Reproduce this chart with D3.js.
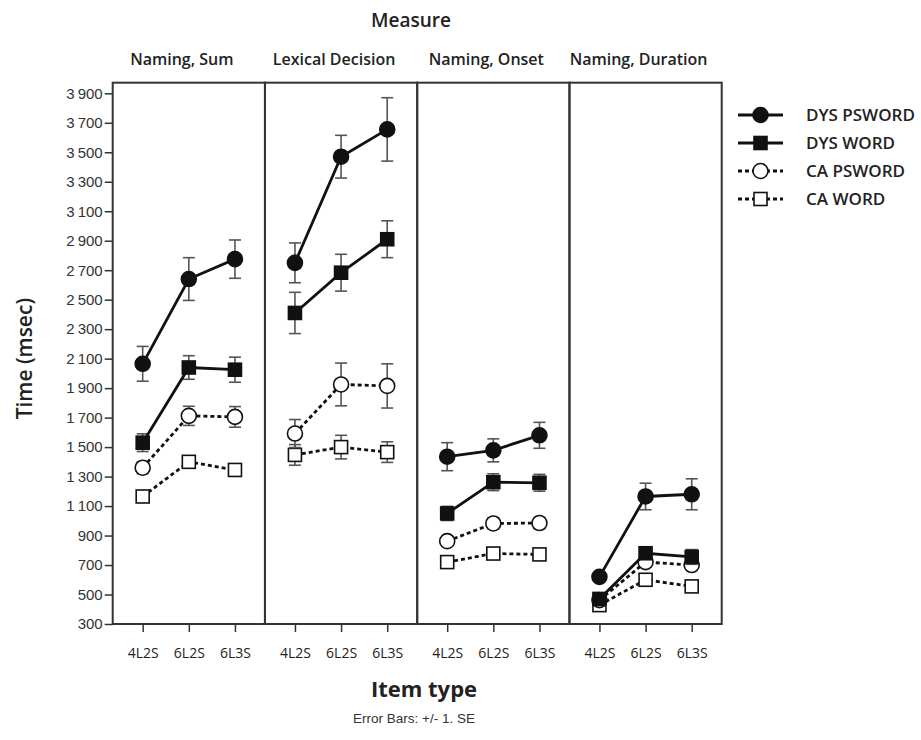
<!DOCTYPE html>
<html>
<head>
<meta charset="utf-8">
<script src="https://cdn.jsdelivr.net/npm/d3@7"></script>
<style>
  body { margin: 0; background: #fff; }
  text { font-family: "Open Sans", sans-serif; }
</style>
</head>
<body>
<script>
// measures (panels) and item types (x categories)
const measures = ["Naming, Sum", "Lexical Decision", "Naming, Onset", "Naming, Duration"];
const itemTypes = ["4L2S", "6L2S", "6L3S"];
const groups = ["DYS PSWORD", "DYS WORD", "CA PSWORD", "CA WORD"];

// means (msec), 3 item types per measure, in measure order
const dysPsword   = [2065, 2640, 2775,  2750, 3470, 3655,  1435, 1478, 1580,  620, 1165, 1180];
const dysPswordSE = [ 118,  145,  130,   135,  145,  215,    95,   78,   88,   28,   90,  105];
const dysWord     = [1530, 2040, 2025,  2410, 2683, 2910,  1050, 1262, 1258,  470,  780,  755];
const dysWordSE   = [  60,   80,   85,   140,  125,  125,    48,   57,   57,   20,   38,   50];
const caPsword    = [1360, 1712, 1705,  1592, 1925, 1915,   862,  982,  985,  462,  720,  700];
const caPswordSE  = [  40,   65,   70,    95,  145,  150,    15,   38,   38,   15,   25,   25];
const caWord      = [1165, 1400, 1345,  1447, 1500, 1466,   720,  778,  772,  428,  600,  555];
const caWordSE    = [  20,   30,   20,    70,   80,   70,    10,   15,   15,   10,   15,   15];

const yTicks = d3.range(300, 4000, 200);

const series = [
  {name: groups[0], mean: dysPsword, se: dysPswordSE, shape: "circle", fill: "#111", dash: null},
  {name: groups[1], mean: dysWord,   se: dysWordSE,   shape: "square", fill: "#111", dash: null},
  {name: groups[2], mean: caPsword,  se: caPswordSE,  shape: "circle", fill: "#fff", dash: "4,3"},
  {name: groups[3], mean: caWord,    se: caWordSE,    shape: "square", fill: "#fff", dash: "4,3"}
];

const width = 921, height = 740;
const left = 112.7, right = 721.7, bottom = 624;

const svg = d3.select("body").append("svg")
  .attr("width", width).attr("height", height);

const y = d3.scaleLinear().domain([300, 3900]).range([bottom, 93.3]);
const yTop = y(3972);

const panel = d3.scaleBand().domain(measures).range([left, right]);
const x = d3.scalePoint().domain(itemTypes).range([0, panel.bandwidth()]).padding(0.65);

// titles
svg.append("text").attr("x", 411).attr("y", 27).attr("text-anchor", "middle")
  .style("font-size", "19px").style("font-weight", 600).attr("fill", "#222").text("Measure");

svg.append("text").attr("transform", "translate(32," + (y(2100)) + ") rotate(-90)")
  .attr("text-anchor", "middle").style("font-size", "21px").style("font-weight", 600)
  .attr("fill", "#222").text("Time (msec)");

svg.append("text").attr("x", 424).attr("y", 697).attr("text-anchor", "middle")
  .style("font-size", "22px").style("font-weight", 700).attr("fill", "#222").text("Item type");

svg.append("text").attr("x", 414).attr("y", 723).attr("text-anchor", "middle")
  .style("font-family", "'Liberation Sans', Arial, sans-serif")
  .style("font-size", "13.5px").attr("fill", "#333").text("Error Bars: +/- 1. SE");

// y axis
const fmt = v => d3.format(",")(v).replace(",", "\u2009");
const yAxis = svg.append("g").attr("transform", "translate(" + left + ",0)")
  .call(d3.axisLeft(y).tickValues(yTicks).tickSize(8).tickPadding(2).tickFormat(fmt));
yAxis.select(".domain").remove();
yAxis.selectAll("line").attr("stroke", "#333").attr("stroke-width", 1.5);
yAxis.selectAll("text").attr("fill", "#333")
  .style("font-family", "'Liberation Sans', Arial, sans-serif").style("font-size", "15px");

const line = d3.line().x(d => x(d.type)).y(d => y(d.v));

measures.forEach((m, mi) => {
  const g = svg.append("g").attr("transform", "translate(" + panel(m) + ",0)");

  g.append("text").attr("x", panel.bandwidth() / 2 - 7).attr("y", 65)
    .attr("text-anchor", "middle").style("font-size", "16px").style("font-weight", 600)
    .attr("fill", "#222").text(m);

  g.append("rect").attr("x", 0).attr("y", yTop)
    .attr("width", panel.bandwidth()).attr("height", bottom - yTop)
    .attr("fill", "none").attr("stroke", "#333").attr("stroke-width", 2);

  const xAxis = g.append("g").attr("transform", "translate(0," + bottom + ")")
    .call(d3.axisBottom(x).tickSize(8).tickPadding(16));
  xAxis.select(".domain").remove();
  xAxis.selectAll("line").attr("stroke", "#333").attr("stroke-width", 1.5);
  xAxis.selectAll("text").attr("fill", "#222").style("font-size", "14px");

  // CA groups first so DYS markers sit on top
  series.slice().reverse().forEach(s => {
    const pts = itemTypes.map((t, ti) => ({type: t, v: s.mean[mi * 3 + ti], se: s.se[mi * 3 + ti]}));

    // error bars
    const eb = g.append("g").attr("stroke", "#555").attr("stroke-width", 1.6);
    pts.forEach(p => {
      const cx = x(p.type);
      eb.append("line").attr("x1", cx).attr("x2", cx).attr("y1", y(p.v - p.se)).attr("y2", y(p.v + p.se));
      [p.v - p.se, p.v + p.se].forEach(v => {
        eb.append("line").attr("x1", cx - 6).attr("x2", cx + 6).attr("y1", y(v)).attr("y2", y(v));
      });
    });

    g.append("path").datum(pts).attr("d", line).attr("fill", "none")
      .attr("stroke", "#111").attr("stroke-width", 2.8)
      .attr("stroke-dasharray", s.dash);

    pts.forEach(p => drawMarker(g, s, x(p.type), y(p.v)));
  });
});

function drawMarker(g, s, cx, cy) {
  if (s.shape === "circle") {
    g.append("circle").attr("cx", cx).attr("cy", cy).attr("r", 7.5)
      .attr("fill", s.fill).attr("stroke", "#111").attr("stroke-width", 1.6);
  } else {
    g.append("rect").attr("x", cx - 6.5).attr("y", cy - 6.5).attr("width", 13).attr("height", 13)
      .attr("fill", s.fill).attr("stroke", "#111").attr("stroke-width", 1.6);
  }
}

// legend
const leg = svg.append("g").attr("transform", "translate(738,115)");
series.forEach((s, i) => {
  const ly = i * 28;
  leg.append("line").attr("x1", 0).attr("x2", 45).attr("y1", ly).attr("y2", ly)
    .attr("stroke", "#111").attr("stroke-width", 2.8).attr("stroke-dasharray", s.dash);
  drawMarker(leg, s, 22.5, ly);
  leg.append("text").attr("x", 68).attr("y", ly).attr("dy", "0.35em")
    .style("font-size", "17px").style("font-weight", 600).attr("fill", "#222").text(s.name);
});
</script>
</body>
</html>
